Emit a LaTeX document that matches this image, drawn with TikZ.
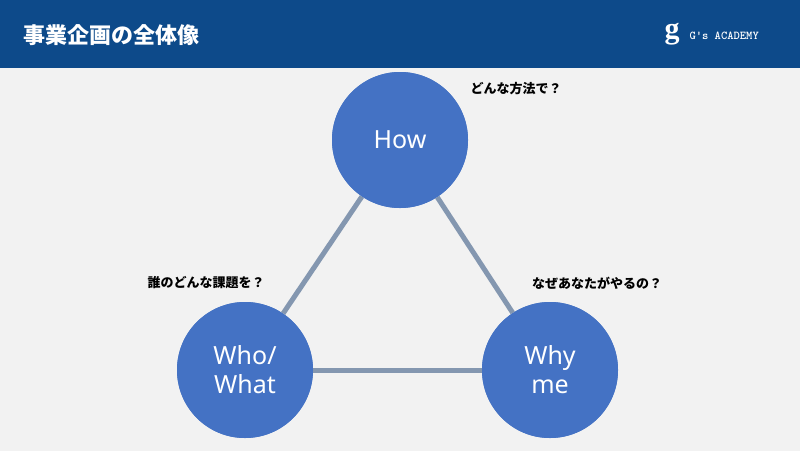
\documentclass[tikz,border=0pt]{standalone}
\usepackage{fontspec}
\setmainfont{Noto Sans}
\newfontfamily\cjk{Noto Sans CJK JP}
\newfontfamily\serifb{Liberation Serif}
\begin{document}
\begin{tikzpicture}[x=1pt,y=-1pt,
  circ/.style={circle,fill=cblue,minimum size=136pt,inner sep=0pt,text=white,font=\fontsize{25}{29}\selectfont\bfseries,align=center},
  link/.style={draw=lgrey,line width=5pt},
  lab/.style={font=\cjk\bfseries\fontsize{13}{15}\selectfont,text=black}]
\definecolor{cblue}{HTML}{4472C4}
\definecolor{lgrey}{HTML}{8497B0}
\definecolor{hdr}{HTML}{0D4A8A}
\definecolor{bg}{HTML}{F2F2F2}
\fill[bg] (0,0) rectangle (800,451);
\useasboundingbox (0,0) rectangle (800,451);
\fill[hdr] (0,0) rectangle (800,68);
\node[anchor=west,text=white,font=\cjk\bfseries\fontsize{22}{26}\selectfont] (title) at (20,35) {事業企画の全体像};
\node[text=white,font=\serifb\bfseries\fontsize{30}{30}\selectfont] (g) at (672,34) {g};
\node[anchor=west,text=white,font=\ttfamily\bfseries\fontsize{12}{14}\selectfont] (brand) at (686,36) {G's ACADEMY};
\node[circ] (how) at (400,140) {How};
\node[circ] (who) at (245,370) {Who/\\What};
\node[circ] (why) at (550,370) {Why\\me};
\begin{scope}[on background layer/.style={}]
\end{scope}
\draw[link] (how) -- (who);
\draw[link] (how) -- (why);
\draw[link] (who) -- (why);
\node[circ] at (how) {How};
\node[circ] at (who) {Who/\\What};
\node[circ] at (why) {Why\\me};
\node[lab] (l1) at (516,89) {どんな方法で？};
\node[lab] (l2) at (206,283) {誰のどんな課題を？};
\node[lab] (l3) at (597,283) {なぜあなたがやるの？};
\end{tikzpicture}
\end{document}
